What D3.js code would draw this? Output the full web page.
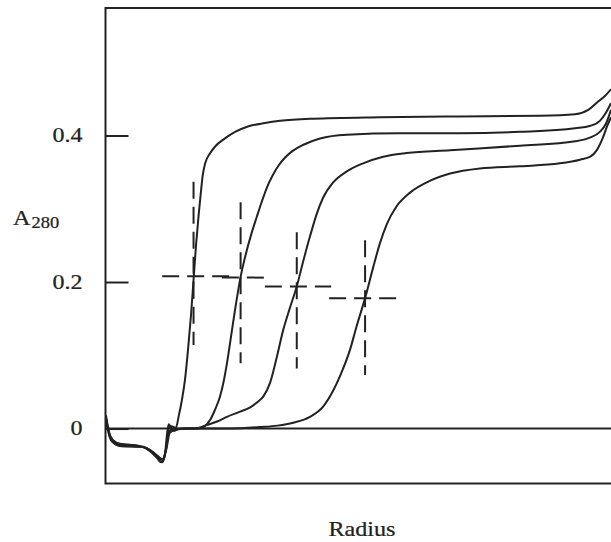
<!DOCTYPE html>
<html>
<head>
<meta charset="utf-8">
<script src="https://d3js.org/d3.v7.min.js"></script>
<style>
  html, body { margin: 0; padding: 0; background: #fff; }
  text { font-family: "Liberation Serif", "Times New Roman", serif; fill: #222; stroke: #222; stroke-width: 0.25px; }
</style>
</head>
<body>
<script>
// radius in arbitrary units (0..100 across the visible frame), A280 absorbance
const yTicks = [0, 0.2, 0.4];
const yLabel = "A";
const ySub = "280";
const xLabel = "Radius";

const curve1 = [[0.1,0.018],[0.7,-0.005],[1.5,-0.016],[2.9,-0.021],[5.8,-0.023],[8.2,-0.027],[9.8,-0.036],[11.0,-0.046],[11.6,-0.040],[12.2,-0.016],[12.5,0.001],[13.1,0.003],[13.9,0.001],[14.5,0.018],[15.1,0.039],[15.7,0.066],[16.3,0.107],[16.9,0.155],[17.4,0.203],[17.9,0.251],[18.4,0.291],[18.8,0.319],[19.2,0.345],[19.7,0.362],[20.7,0.376],[21.8,0.386],[23.2,0.394],[25.6,0.405],[28.0,0.412],[31.5,0.417],[34.5,0.420],[41.0,0.423],[54.2,0.425],[70.0,0.426],[85.9,0.427],[92.8,0.429],[95.4,0.435],[97.3,0.446],[98.7,0.454],[99.9,0.463]];

const curve2 = [[0.1,0.014],[0.9,-0.012],[2.3,-0.020],[6.8,-0.024],[8.8,-0.031],[10.2,-0.040],[11.2,-0.046],[11.8,-0.032],[12.2,-0.005],[12.5,0.006],[12.9,0.002],[13.5,-0.003],[14.3,-0.001],[16.7,0.000],[18.1,0.000],[19.3,0.002],[20.7,0.012],[21.6,0.025],[22.6,0.043],[23.4,0.066],[24.0,0.089],[24.9,0.130],[25.6,0.162],[26.7,0.207],[27.8,0.240],[28.8,0.265],[29.9,0.289],[31.0,0.312],[31.9,0.329],[33.0,0.345],[34.2,0.359],[35.5,0.370],[37.0,0.379],[39.0,0.387],[42.4,0.396],[47.7,0.401],[58.2,0.403],[70.1,0.403],[81.9,0.405],[92.8,0.410],[95.7,0.413],[97.7,0.420],[98.9,0.431],[99.9,0.444]];

const curve3 = [[0.1,0.012],[1.1,-0.016],[2.7,-0.023],[7.2,-0.025],[9.4,-0.032],[10.6,-0.040],[11.4,-0.043],[12.0,-0.027],[12.5,-0.005],[13.3,-0.001],[14.7,0.000],[17.7,0.000],[20.1,0.005],[22.2,0.010],[24.0,0.016],[26.6,0.023],[28.6,0.029],[30.0,0.036],[31.2,0.044],[32.5,0.062],[33.8,0.096],[35.1,0.134],[36.5,0.166],[37.8,0.194],[39.1,0.229],[40.4,0.262],[41.7,0.292],[43.0,0.315],[45.0,0.336],[47.7,0.351],[50.9,0.362],[54.9,0.371],[59.5,0.376],[68.1,0.380],[81.9,0.386],[92.8,0.392],[95.7,0.397],[97.7,0.405],[98.9,0.416],[99.9,0.435]];

const curve4 = [[0.1,0.013],[1.3,-0.017],[3.1,-0.024],[7.4,-0.025],[9.0,-0.031],[10.4,-0.038],[11.2,-0.042],[12.0,-0.029],[12.7,-0.006],[13.7,-0.002],[15.7,0.000],[18.7,0.000],[24.6,0.000],[30.5,0.002],[34.0,0.004],[37.1,0.008],[40.4,0.016],[43.0,0.030],[45.0,0.052],[46.3,0.071],[48.3,0.107],[49.6,0.139],[51.3,0.178],[52.9,0.220],[54.2,0.252],[55.6,0.279],[57.5,0.303],[60.2,0.322],[63.5,0.336],[68.1,0.348],[74.0,0.355],[81.9,0.358],[89.8,0.362],[93.8,0.367],[95.8,0.371],[97.1,0.380],[98.3,0.397],[99.1,0.412],[99.9,0.425]];

// dashed crosses marking each boundary midpoint: [r, a0, a1] and [a, r0, r1]
const vDashes = [[17.4,0.337,0.114],[26.7,0.309,0.089],[37.8,0.268,0.082],[51.3,0.257,0.073]];
const hDashes = [[0.208,11.2,25.0],[0.206,23.0,32.7],[0.194,31.5,44.6],[0.178,44.2,58.8]];

const W = 611, H = 542;
const svg = d3.select("body").append("svg").attr("width", W).attr("height", H);

const x = d3.scaleLinear().domain([0, 100]).range([105.5, 611.5]);
const y = d3.scaleLinear().domain([-0.075, 0.574]).range([483.5, 8]);
const ink = "#222";

// frame (right side runs off the page)
svg.append("path")
  .attr("d", `M${W + 10},${y(0.574)}H${x(0)}V${y(-0.075)}H${W + 10}`)
  .attr("fill", "none").attr("stroke", ink).attr("stroke-width", 2);

// zero line
svg.append("line")
  .attr("x1", x(0)).attr("x2", W + 10)
  .attr("y1", y(0)).attr("y2", y(0))
  .attr("stroke", ink).attr("stroke-width", 2);

// y axis, ticks inside the frame, labels outside
const yAxis = svg.append("g")
  .attr("transform", `translate(${x(0)},0)`)
  .call(d3.axisLeft(y).tickValues(yTicks).tickSize(-23).tickPadding(23)
    .tickFormat(d => d === 0 ? "0" : d3.format(".1f")(d)));
yAxis.select(".domain").remove();
yAxis.selectAll(".tick line").attr("stroke", ink).attr("stroke-width", 2);
yAxis.selectAll(".tick text")
  .attr("font-size", 20).attr("font-family", "Liberation Serif, serif")
  .attr("fill", ink)
  .attr("x", -23 / 1.2)
  .attr("transform", "scale(1.2,1)");

// y label with subscript
const yl = svg.append("text")
  .attr("transform", "translate(13,225) scale(1.15,1)")
  .attr("font-size", 21).attr("fill", ink);
yl.append("tspan").text(yLabel);
yl.append("tspan").attr("font-size", 16).attr("dy", 3).attr("dx", 1).text(ySub);

// x label
svg.append("text")
  .attr("transform", "translate(362,536) scale(1.15,1)")
  .attr("text-anchor", "middle")
  .attr("font-size", 21).attr("fill", ink)
  .text(xLabel);

// curves
const line = d3.line()
  .x(d => x(d[0])).y(d => y(d[1]))
  .curve(d3.curveMonotoneX);

svg.append("g").selectAll("path")
  .data([curve1, curve2, curve3, curve4])
  .join("path")
  .attr("d", line)
  .attr("fill", "none")
  .attr("stroke", ink)
  .attr("stroke-width", 2);

// dashed crosses
const dash = "17,8";
svg.append("g").selectAll("line")
  .data(vDashes)
  .join("line")
  .attr("x1", d => x(d[0])).attr("x2", d => x(d[0]))
  .attr("y1", d => y(d[1])).attr("y2", d => y(d[2]))
  .attr("stroke", ink).attr("stroke-width", 2)
  .attr("stroke-dasharray", dash);

svg.append("g").selectAll("line")
  .data(hDashes)
  .join("line")
  .attr("x1", d => x(d[1])).attr("x2", d => x(d[2]))
  .attr("y1", d => y(d[0])).attr("y2", d => y(d[0]))
  .attr("stroke", ink).attr("stroke-width", 2)
  .attr("stroke-dasharray", dash);
</script>
</body>
</html>
